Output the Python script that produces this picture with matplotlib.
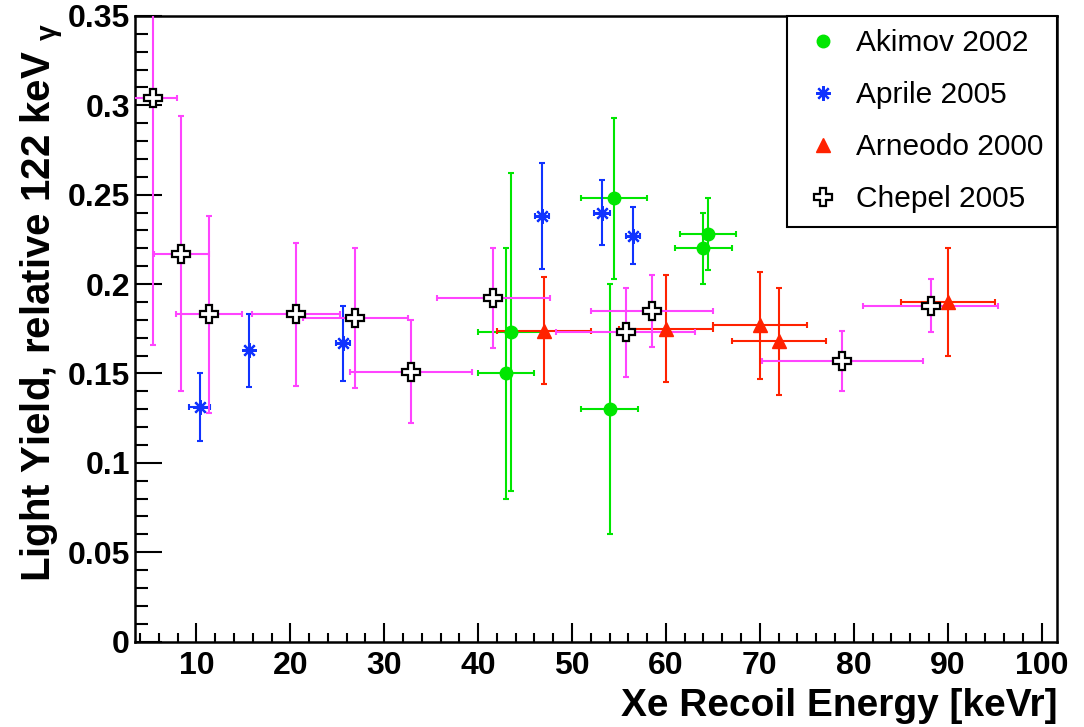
import matplotlib
matplotlib.use("Agg")
import matplotlib.pyplot as plt
from matplotlib.lines import Line2D
from matplotlib.ticker import MultipleLocator, FixedLocator, FixedFormatter

plt.rcParams['font.family'] = ['Liberation Sans', 'DejaVu Sans']
plt.rcParams['mathtext.fontset'] = 'custom'
plt.rcParams['mathtext.rm'] = 'Liberation Sans'
plt.rcParams['mathtext.it'] = 'Liberation Sans:italic'
plt.rcParams['mathtext.bf'] = 'Liberation Sans:bold'
plt.rcParams['mathtext.default'] = 'regular'

# Akimov 2002
akimov_x = [43.5, 43.0, 54.5, 54.0, 64.5, 64.0]
akimov_xerr = [3.5, 3.0, 3.5, 3.0, 3.0, 3.0]
akimov_y = [0.173, 0.150, 0.248, 0.130, 0.228, 0.220]
akimov_yerr = [0.089, 0.070, 0.045, 0.070, 0.020, 0.020]

# Aprile 2005
aprile_x = [10.35, 15.6, 25.6, 46.8, 53.2, 56.5]
aprile_xerr = [1.1, 0.0, 0.7, 0.7, 0.85, 0.75]
aprile_y = [0.131, 0.163, 0.167, 0.238, 0.240, 0.227]
aprile_yerr = [0.019, 0.0205, 0.021, 0.0295, 0.018, 0.016]

# Arneodo 2000
arneodo_x = [47.0, 60.0, 70.0, 72.0, 90.0]
arneodo_xerr = [5.0, 5.0, 5.0, 5.0, 5.0]
arneodo_y = [0.174, 0.175, 0.177, 0.168, 0.190]
arneodo_yerr = [0.030, 0.030, 0.030, 0.030, 0.030]

# Chepel 2005
chepel_x = [5.4, 8.4, 11.3, 20.6, 26.9, 32.8, 41.6, 55.7, 58.5, 78.8, 88.2]
chepel_xerr = [2.5, 2.9, 3.5, 4.7, 5.6, 6.5, 6.0, 7.4, 6.5, 8.6, 7.2]
chepel_y = [0.304, 0.217, 0.183, 0.183, 0.181, 0.151, 0.192, 0.173, 0.185, 0.157, 0.188]
chepel_yerr = [0.138, 0.077, 0.055, 0.040, 0.039, 0.029, 0.028, 0.025, 0.020, 0.017, 0.015]

x_ticks = [10, 20, 30, 40, 50, 60, 70, 80, 90, 100]
y_ticks = [0, 0.05, 0.1, 0.15, 0.2, 0.25, 0.3, 0.35]
y_labels = ["0", "0.05", "0.1", "0.15", "0.2", "0.25", "0.3", "0.35"]

green = '#00e600'
blue = '#1033ff'
red = '#ff2200'
magenta = '#ff44ff'

fig = plt.figure(figsize=(10.84, 7.27), dpi=100)
ax = fig.add_axes([0.1245, 0.1176, 0.8506, 0.8604])

eb = dict(fmt='none', elinewidth=1.5, capsize=2.5, capthick=1.5)

ax.errorbar(akimov_x, akimov_y, xerr=akimov_xerr, yerr=akimov_yerr, ecolor=green, zorder=2, **eb)
ax.plot(akimov_x, akimov_y, 'o', color=green, markersize=9, zorder=5)

ax.errorbar(aprile_x, aprile_y, xerr=aprile_xerr, yerr=aprile_yerr, ecolor=blue, zorder=2, **eb)
ax.plot(aprile_x, aprile_y, marker=(8, 2, 0), linestyle='none', color=blue,
        markersize=10.5, markeredgewidth=1.6, zorder=5)

ax.errorbar(arneodo_x, arneodo_y, xerr=arneodo_xerr, yerr=arneodo_yerr, ecolor=red, zorder=2, **eb)
ax.plot(arneodo_x, arneodo_y, '^', color=red, markersize=9.5, zorder=5)

ax.errorbar(chepel_x, chepel_y, xerr=chepel_xerr, yerr=chepel_yerr, ecolor=magenta, zorder=3, **eb)
ax.plot(chepel_x, chepel_y, 'P', markerfacecolor='white', markeredgecolor='black',
        markeredgewidth=1.6, markersize=13.5, linestyle='none', zorder=6)

ax.set_xlim(3.45, 101.65)
ax.set_ylim(0, 0.35)

for s in ax.spines.values():
    s.set_linewidth(1.8)

ax.xaxis.set_major_locator(FixedLocator(x_ticks))
ax.xaxis.set_minor_locator(MultipleLocator(2))
ax.yaxis.set_major_locator(FixedLocator(y_ticks))
ax.yaxis.set_major_formatter(FixedFormatter(y_labels))
ax.yaxis.set_minor_locator(MultipleLocator(0.01))

ax.tick_params(axis='both', which='both', direction='in', top=False, right=False, width=1.5)
ax.tick_params(axis='x', which='major', length=13.5, pad=7)
ax.tick_params(axis='x', which='minor', length=6.8)
ax.tick_params(axis='y', which='major', length=19.5, pad=3.5)
ax.tick_params(axis='y', which='minor', length=9.5)
for lab in ax.get_xticklabels() + ax.get_yticklabels():
    lab.set_fontsize(23)
    lab.set_fontweight('bold')

ax.set_xlabel("Xe Recoil Energy [keVr]", fontsize=28, fontweight='bold', loc='right')
ax.xaxis.set_label_coords(1.0, -0.074)
ax.set_ylabel(r"Light Yield, relative 122 keV $_{\gamma}$", fontsize=29, fontweight='bold', loc='top')
ax.yaxis.set_label_coords(-0.075, 0.99)

handles = [
    Line2D([], [], marker='o', linestyle='none', color=green, markersize=9),
    Line2D([], [], marker=(8, 2, 0), linestyle='none', color=blue, markersize=10.5, markeredgewidth=1.6),
    Line2D([], [], marker='^', linestyle='none', color=red, markersize=9.5),
    Line2D([], [], marker='P', linestyle='none', markerfacecolor='white', markeredgecolor='black',
           markeredgewidth=1.6, markersize=13.5),
]
names = ["Akimov 2002", "Aprile 2005", "Arneodo 2000", "Chepel 2005"]
leg = ax.legend(handles, names, loc='upper right', bbox_to_anchor=(0.7072, 0.0, 0.2928, 1.0),
                mode='expand', borderaxespad=0, fontsize=21.5, fancybox=False, framealpha=1,
                edgecolor='black', borderpad=0.45, labelspacing=0.8, handlelength=1.5,
                handletextpad=0.36)
leg.get_frame().set_linewidth(1.5)
leg.set_zorder(10)

fig.savefig("out.png", dpi=100)
